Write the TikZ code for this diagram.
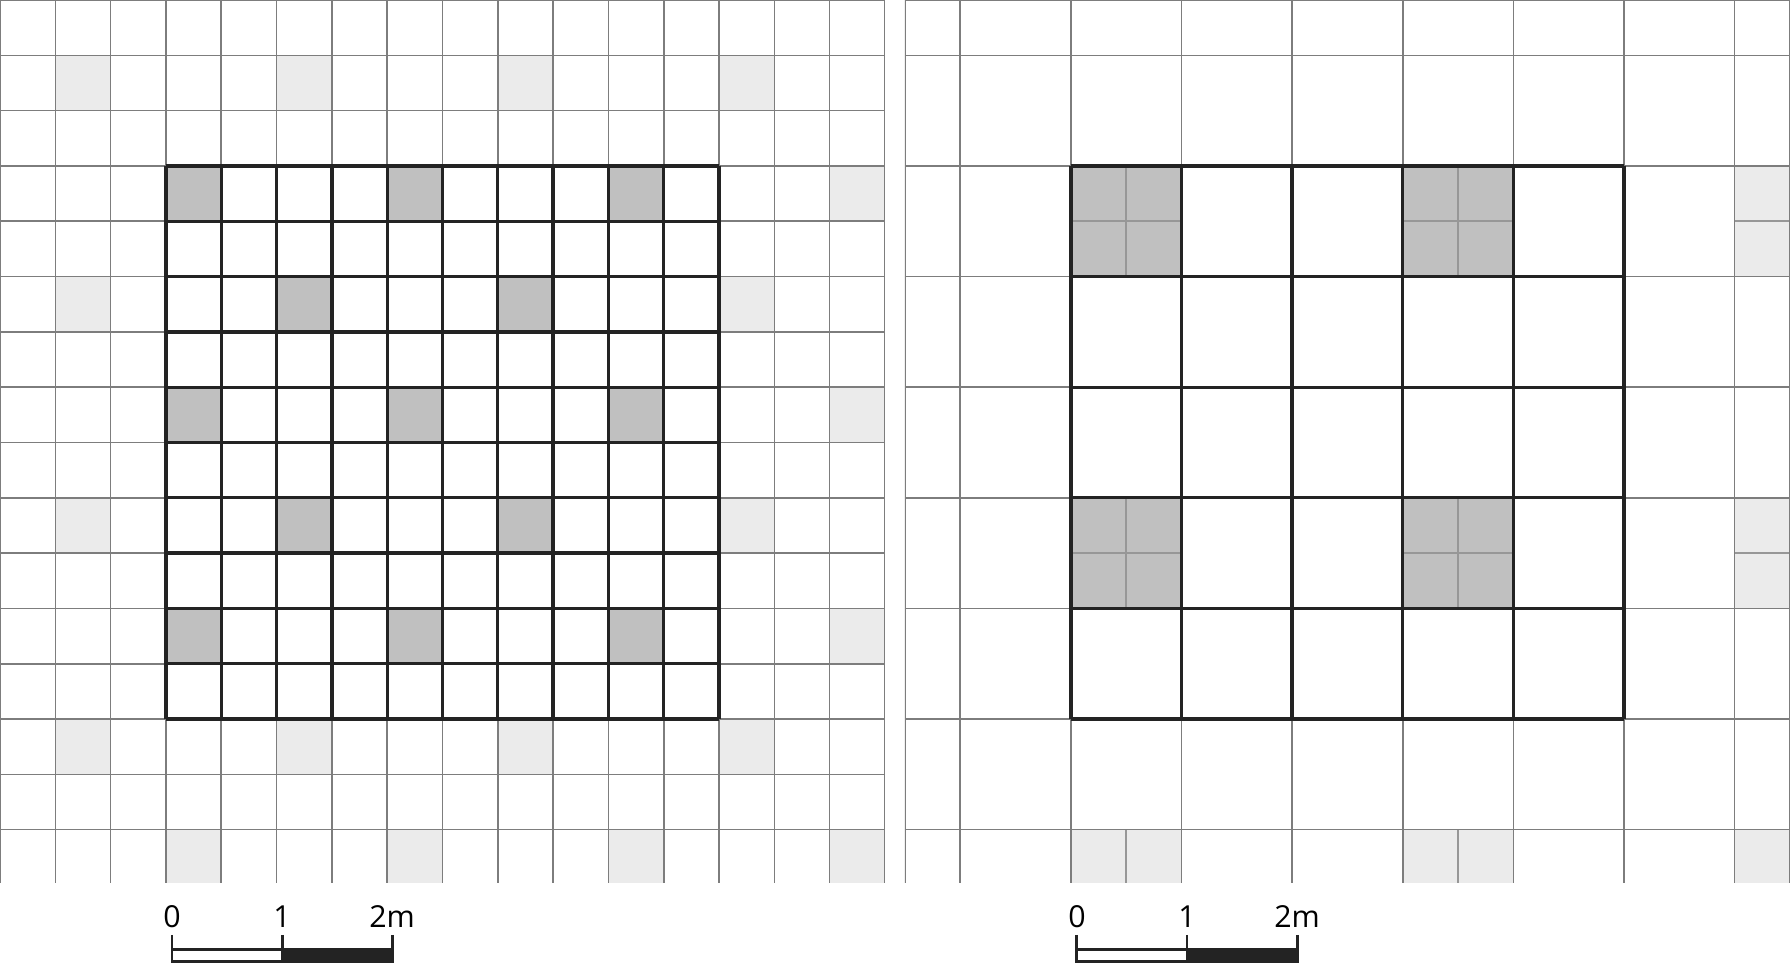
\documentclass[tikz,border=0pt]{standalone}
\usepackage{fontspec}
\setmainfont{Open Sans}
\usetikzlibrary{positioning}
\definecolor{plotdark}{RGB}{192,192,192}
\definecolor{plotlight}{RGB}{235,235,235}
\definecolor{gridgray}{RGB}{125,125,125}
\definecolor{framedark}{RGB}{35,35,35}

\begin{document}
\begin{tikzpicture}[x=0.5cm, y=-0.5cm,
  thingrid/.style={draw=gridgray, line width=0.4pt},
  heavygrid/.style={draw=framedark, line width=0.85pt},
  subgrid/.style={draw=gridgray!80, line width=0.4pt},
  barline/.style={draw=framedark, line width=0.75pt},
  scalelabel/.style={font=\fontsize{7.8}{9}\selectfont,
    inner sep=0pt, anchor=base}
]
\useasboundingbox (0,0) rectangle (32.38,17.41);

% left plot, 0.5 m cells
\begin{scope}
  \clip (0,0) rectangle (16,15.95);
  \foreach \c in {1,3,...,15}
    \foreach \r in {1,3,...,15} {
      \pgfmathtruncatemacro{\m}{mod(\c+\r,4)}
      \pgfmathtruncatemacro{\inside}{(\c>2)*(\c<13)*(\r>2)*(\r<13)}
      \ifnum\m=2
        \ifnum\inside=1
          \fill[plotdark] (\c,\r) rectangle ++(1,1);
        \else
          \fill[plotlight] (\c,\r) rectangle ++(1,1);
        \fi
      \fi
    }
  \foreach \x in {0,...,16}
    \draw[thingrid] (\x,0) -- (\x,16);
  \foreach \y in {0,...,15}
    \draw[thingrid] (0,\y) -- (16,\y);
  \foreach \x in {3,...,13}
    \draw[heavygrid] (\x,3) -- (\x,13);
  \foreach \y in {3,...,13}
    \draw[heavygrid] (3,\y) -- (13,\y);
\end{scope}

% right plot, 1 m cells
\begin{scope}[shift={(16.36,0)}]
  \clip (0,0) rectangle (16,15.95);
  \foreach \c in {3,9,15}
    \foreach \r in {3,9,15} {
      \pgfmathtruncatemacro{\inside}{(\c<13)*(\r<13)}
      \ifnum\inside=1
        \fill[plotdark] (\c,\r) rectangle ++(2,2);
      \else
        \fill[plotlight] (\c,\r) rectangle ++(2,2);
      \fi
      \draw[subgrid] (\c+1,\r) -- (\c+1,\r+2);
      \draw[subgrid] (\c,\r+1) -- (\c+2,\r+1);
    }
  \foreach \x in {0,1,3,...,15,16}
    \draw[thingrid] (\x,0) -- (\x,16);
  \foreach \y in {0,1,3,...,15}
    \draw[thingrid] (0,\y) -- (16,\y);
  \foreach \x in {3,5,...,13}
    \draw[heavygrid] (\x,3) -- (\x,13);
  \foreach \y in {3,5,...,13}
    \draw[heavygrid] (3,\y) -- (13,\y);
\end{scope}

% scale bars
\foreach \p/\dx in {L/0, R/16.36} {
  \begin{scope}[shift={(\dx,0)}]
    \fill[framedark] (5.10,17.16) rectangle (7.09,17.39);
    \draw[barline] (3.11,17.16) rectangle (7.09,17.39);
    \foreach \t in {3.11,5.10,7.09}
      \draw[barline] (\t,16.90) -- (\t,17.39);
    \node[scalelabel] (zero\p) at (3.11,16.76) {0};
    \node[scalelabel] (one\p) at (5.10,16.76) {1};
    \node[scalelabel] (two\p) at (7.09,16.76) {2m};
  \end{scope}
}
\end{tikzpicture}
\end{document}
